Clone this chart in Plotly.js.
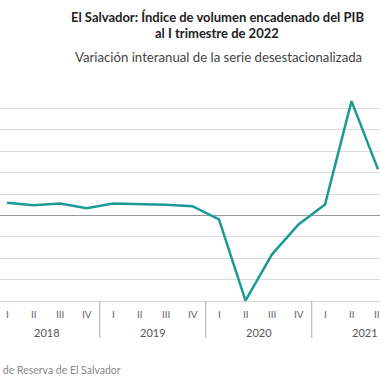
<!DOCTYPE html>
<html>
<head>
<meta charset="utf-8">
<script src="https://cdn.plot.ly/plotly-3.0.1.min.js"></script>
<style>html,body{margin:0;padding:0;background:#fff;overflow:hidden}#chart{width:380px;height:380px}</style>
</head>
<body>
<div id="chart"></div>
<script>
// Data (year-over-year % change, seasonally adjusted series)
const quarterLabels = ["I","II","III","IV","I","II","III","IV","I","II","III","IV","I","II","III"];
const years = ["2018","2019","2020","2021"];
const values = [2.95, 2.4, 2.8, 1.7, 2.8, 2.65, 2.5, 2.15, -0.95, -19.9, -9.1, -2.1, 2.55, 26.7, 10.75];

const idx = values.map((_, i) => i);
const font = "Lato, 'Open Sans', sans-serif";

const annotations = [];
quarterLabels.forEach((q, i) => {
  annotations.push({x: i, y: 0, xref: 'x', yref: 'paper', yanchor: 'middle', yshift: -13,
    text: q, showarrow: false, font: {family: font, size: 10, color: '#666'}});
});
years.forEach((yr, k) => {
  annotations.push({x: k * 4 + 1.5, y: 0, xref: 'x', yref: 'paper', yanchor: 'middle', yshift: -31,
    text: yr, showarrow: false, font: {family: font, size: 11, color: '#555'}});
});
annotations.push({x: 217/380, y: 1, xref: 'paper', yref: 'paper', yanchor: 'middle', yshift: 70,
  text: '<b>El Salvador: Índice de volumen encadenado del PIB</b>', showarrow: false,
  font: {family: font, size: 13, color: '#222'}});
annotations.push({x: 217/380, y: 1, xref: 'paper', yref: 'paper', yanchor: 'middle', yshift: 54,
  text: '<b>al I trimestre de 2022</b>', showarrow: false,
  font: {family: font, size: 13, color: '#222'}});
annotations.push({x: 218/380, y: 1, xref: 'paper', yref: 'paper', yanchor: 'middle', yshift: 30,
  text: 'Variación interanual de la serie desestacionalizada', showarrow: false,
  font: {family: font, size: 13.2, color: '#444'}});
annotations.push({x: 123/380, y: 0, xref: 'paper', yref: 'paper', xanchor: 'right', yanchor: 'middle', yshift: -69,
  text: 'Fuente: Banco Central de Reserva de El Salvador', showarrow: false,
  font: {family: font, size: 10.5, color: '#888'}});

const shapes = [];
for (let k = 0; k <= years.length; k++) {
  shapes.push({type: 'line', xref: 'x', yref: 'paper', x0: k * 4 - 0.5, x1: k * 4 - 0.5,
    y0: 0, y1: -37/214, line: {color: '#aaa', width: 1}});
}

const trace = {
  x: idx, y: values, type: 'scatter', mode: 'lines',
  line: {color: '#1a9b96', width: 2.5}, hoverinfo: 'skip'
};

const layout = {
  width: 380, height: 380,
  margin: {l: 0, r: 0, t: 87, b: 79},
  paper_bgcolor: '#fff', plot_bgcolor: '#fff',
  showlegend: false,
  xaxis: {range: [-7/26.5, 373/26.5], showgrid: false, zeroline: false, showticklabels: false,
    showline: true, linecolor: '#d9d9d9', linewidth: 1, ticks: ''},
  yaxis: {range: [-20, 30], dtick: 5, showgrid: true, gridcolor: '#dcdcdc', gridwidth: 1,
    zeroline: true, zerolinecolor: '#999', zerolinewidth: 1, showticklabels: false, ticks: ''},
  annotations: annotations,
  shapes: shapes
};

Plotly.newPlot('chart', [trace], layout, {staticPlot: true, displayModeBar: false});
</script>
</body>
</html>
